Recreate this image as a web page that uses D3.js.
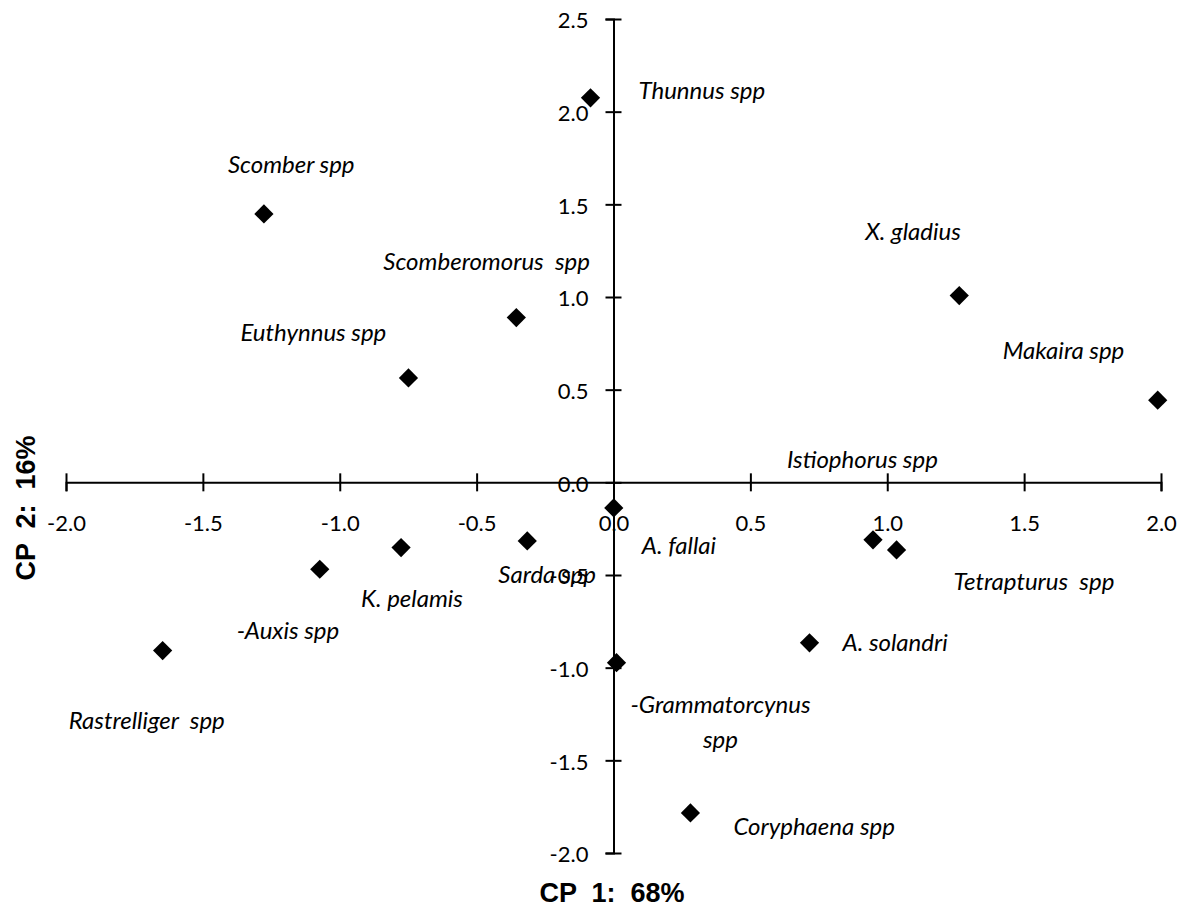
<!DOCTYPE html>
<html>
<head>
<meta charset="utf-8">
<script src="https://cdn.jsdelivr.net/npm/d3@7/dist/d3.min.js"></script>
<style>
  body { margin: 0; background: #fff; }
  svg { display: block; }
</style>
</head>
<body>
<svg id="chart" width="1183" height="917"></svg>
<script>
// PCA biplot of scombroid and billfish genera: scores on CP 1 and CP 2
const species = [
  "Thunnus spp", "Scomber spp", "Scomberomorus  spp", "Euthynnus spp",
  "X. gladius", "Makaira spp", "Istiophorus spp", "A. fallai",
  "Tetrapturus  spp", "Sarda spp", "K. pelamis", "-Auxis spp",
  "Rastrelliger  spp", "A. solandri", "-Grammatorcynus|spp", "Coryphaena spp"
];
const cp1 = [-0.084, -1.277, -0.355, -0.749, 1.263, 1.988, 0.948, 0.001,
             1.034, -0.315, -0.776, -1.073, -1.647, 0.716, 0.011, 0.281];
const cp2 = [2.075, 1.448, 0.889, 0.563, 1.008, 0.443, -0.310, -0.138,
             -0.365, -0.316, -0.352, -0.469, -0.908, -0.866, -0.973, -1.784];

const xTicks = [-2, -1.5, -1, -0.5, 0, 0.5, 1, 1.5, 2];
const xTickLabels = ["-2.0", "-1.5", "-1.0", "-0.5", "0.0", "0.5", "1.0", "1.5", "2.0"];
const yTicks = [-2, -1.5, -1, -0.5, 0, 0.5, 1, 1.5, 2, 2.5];
const yTickLabels = ["-2.0", "-1.5", "-1.0", "-0.5", "0.0", "0.5", "1.0", "1.5", "2.0", "2.5"];

// label placement relative to each marker: [dx to text start, dy to text middle]
// (the two-line label uses dx as the offset of its centre line)
const labelOffsets = [
  [48, -7], [-36, -49], [-133, -56], [-168, -45],
  [-94, -64], [-155, -50], [-86, -80], [28, 38],
  [57, 32], [-29, 34], [-40, 51], [-83, 61],
  [-94, 70], [33, 0], [104, 42], [43, 14]
];

const svg = d3.select("#chart");
svg.append("rect").attr("width", 1183).attr("height", 917).attr("fill", "#fff");

const x = d3.scaleLinear().domain([-2, 2]).range([66, 1161]);
const y = d3.scaleLinear().domain([-2, 2.5]).range([853, 19]);

const textFont = "Lato, 'Noto Sans', sans-serif";

// horizontal axis through y = 0
const gx = svg.append("g")
  .attr("transform", `translate(0,${y(0)})`)
  .call(d3.axisBottom(x).tickValues(xTicks).tickSizeOuter(0).tickSize(9)
    .tickFormat((d, i) => xTickLabels[i]));
gx.select(".domain").attr("stroke", "#000").attr("stroke-width", 2);
gx.selectAll(".tick line").attr("stroke", "#000").attr("stroke-width", 2)
  .attr("y1", -9).attr("y2", 9);
gx.selectAll(".tick text").attr("y", 41).attr("dy", "0.35em")
  .attr("fill", "#000").style("font-family", textFont).style("font-size", "22px");

// vertical axis through x = 0
const gy = svg.append("g")
  .attr("transform", `translate(${x(0)},0)`)
  .call(d3.axisLeft(y).tickValues(yTicks).tickSizeOuter(0).tickSize(8)
    .tickFormat((d, i) => yTickLabels[i]));
gy.select(".domain").attr("stroke", "#000").attr("stroke-width", 2);
gy.selectAll(".tick line").attr("stroke", "#000").attr("stroke-width", 2)
  .attr("x1", -8).attr("x2", 8);
gy.selectAll(".tick text").attr("x", -25).attr("dy", "0.4em")
  .attr("fill", "#000").style("font-family", textFont).style("font-size", "22px");

const pts = species.map((s, i) => ({ name: s, a: cp1[i], b: cp2[i], off: labelOffsets[i] }));

// diamond markers
svg.append("g").selectAll("path").data(pts).join("path")
  .attr("d", d3.symbol().type(d3.symbolSquare).size(185))
  .attr("transform", d => `translate(${x(d.a)},${y(d.b)}) rotate(45)`)
  .attr("fill", "#000");

// species labels
const lab = svg.append("g")
  .style("font-family", textFont).style("font-size", "24px").style("font-style", "italic")
  .attr("fill", "#000");
pts.forEach(d => {
  const lines = d.name.split("|");
  const px = x(d.a) + d.off[0], py = y(d.b) + d.off[1];
  if (lines.length === 1) {
    lab.append("text").attr("x", px).attr("y", py).attr("dy", "0.35em")
      .style("white-space", "pre").text(lines[0]);
  } else {
    lines.forEach((ln, k) => {
      lab.append("text").attr("x", px).attr("y", py + k * 35).attr("dy", "0.35em")
        .attr("text-anchor", "middle").text(ln);
    });
  }
});

// axis titles
const titleFont = "'Liberation Sans', Arial, sans-serif";
svg.append("text").attr("x", 612).attr("y", 893).attr("dy", "0.35em")
  .attr("text-anchor", "middle").style("white-space", "pre")
  .style("font-family", titleFont).style("font-weight", "bold")
  .style("font-size", "27px").text("CP  1:  68%");
svg.append("text").attr("transform", "translate(26,508) rotate(-90)").attr("dy", "0.35em")
  .attr("text-anchor", "middle").style("white-space", "pre")
  .style("font-family", titleFont).style("font-weight", "bold")
  .style("font-size", "27px").text("CP  2:  16%");
</script>
</body>
</html>
